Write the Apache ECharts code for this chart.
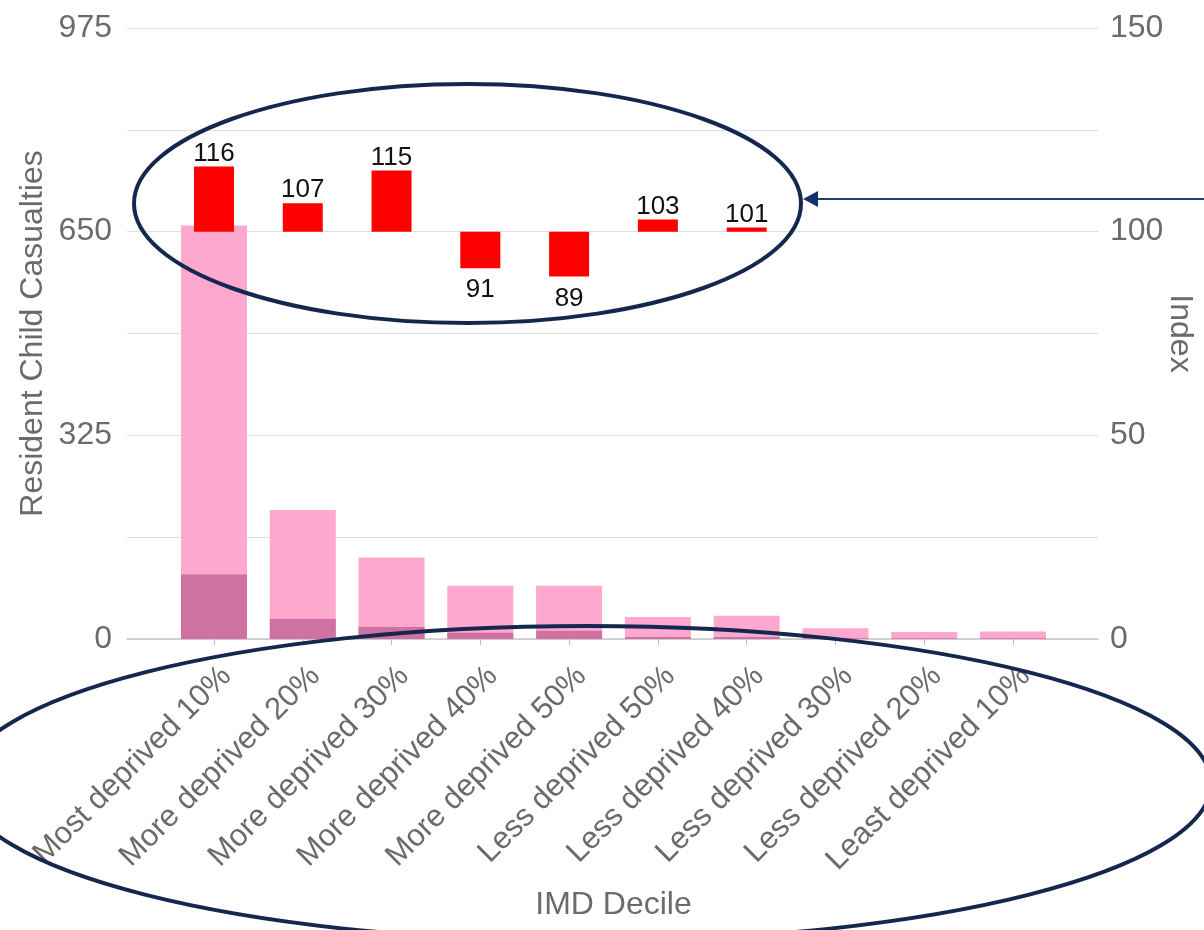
<!DOCTYPE html>
<html>
<head>
<meta charset="utf-8">
<script src="https://cdn.jsdelivr.net/npm/echarts@6/dist/echarts.min.js"></script>
<style>
html,body{margin:0;padding:0;background:#fff;}
#chart{width:1204px;height:930px;}
</style>
</head>
<body>
<div id="chart"></div>
<script>
const categories = ['Most deprived 10%','More deprived 20%','More deprived 30%','More deprived 40%','More deprived 50%','Less deprived 50%','Less deprived 40%','Less deprived 30%','Less deprived 20%','Least deprived 10%'];
const casualties = [660, 206, 130, 85, 85, 35, 37, 17, 11, 12];
const seriousCasualties = [103, 32, 19, 10, 13, 3, 3, 1, 1, 1];
const indexValues = [116, 107, 115, 91, 89, 103, 101, null, null, null];
const leftTicks = [0, 325, 650, 975];
const rightTicks = [0, 50, 100, 150];
const indexBaseline = 100;

const FONT = 'Liberation Sans, Arial, sans-serif';
const chart = echarts.init(document.getElementById('chart'), null, {renderer:'canvas'});

const baseData = indexValues.map(v => v == null ? '-' : Math.min(v, indexBaseline));
const deltaData = indexValues.map(v => v == null ? '-' : {
  value: Math.abs(v - indexBaseline),
  label: { position: v >= indexBaseline ? 'top' : 'bottom', distance: v >= indexBaseline ? 0 : 9 }
});

const gridTop = 28, gridBottom = 291;
const option = {
  animation: false,
  backgroundColor: '#fff',
  textStyle: { fontFamily: FONT },
  grid: [
    { left: 127, right: 106, top: gridTop, bottom: gridBottom, outerBoundsMode: 'none', containLabel: false },
    { left: 169.6, right: 146.6, top: gridTop, bottom: gridBottom, outerBoundsMode: 'none', containLabel: false },
    { left: 169.6, right: 146.6, top: gridTop, bottom: gridBottom, outerBoundsMode: 'none', containLabel: false }
  ],
  xAxis: [
    { gridIndex: 0, type: 'value', min: 0, max: 1,
      axisLine: { show: true, lineStyle: { color: '#c8c8c8', width: 1.5 } },
      axisTick: { show: false }, axisLabel: { show: false }, splitLine: { show: false } },
    { gridIndex: 1, type: 'category', data: categories,
      axisLine: { show: false },
      axisTick: { show: true, alignWithLabel: true, length: 6, lineStyle: { color: '#bdbdbd' } },
      axisLabel: { interval: 0, rotate: 45, fontSize: 31, color: '#6b6b6b', fontFamily: FONT,
        margin: 20, verticalAlign: 'top', lineHeight: 31, padding: [2, 0, 0, 0] },
      name: 'IMD Decile', nameLocation: 'middle', nameGap: 250, nameMoveOverlap: false,
      nameTextStyle: { fontSize: 32, color: '#6b6b6b', fontFamily: FONT } },
    { gridIndex: 2, type: 'category', data: categories, show: false }
  ],
  yAxis: [
    { gridIndex: 0, type: 'value', min: 0, max: 975, interval: 162.5, position: 'left',
      axisLine: { show: false }, axisTick: { show: false },
      splitLine: { show: true, lineStyle: { color: '#dedede', width: 1.2 } },
      axisLabel: { fontSize: 32, color: '#6b6b6b', margin: 15, fontFamily: FONT,
        formatter: v => leftTicks.includes(v) ? String(v) : '' },
      name: 'Resident Child Casualties', nameLocation: 'middle', nameGap: 78, nameRotate: 90,
      nameMoveOverlap: false,
      nameTextStyle: { fontSize: 32, color: '#6b6b6b', fontFamily: FONT } },
    { gridIndex: 0, type: 'value', min: 0, max: 150, interval: 25, position: 'right',
      axisLine: { show: false }, axisTick: { show: false }, splitLine: { show: false },
      axisLabel: { fontSize: 32, color: '#6b6b6b', margin: 12, fontFamily: FONT,
        formatter: v => rightTicks.includes(v) ? String(v) : '' },
      name: 'Index', nameLocation: 'middle', nameGap: 66, nameRotate: -90, nameMoveOverlap: false,
      nameTextStyle: { fontSize: 32, color: '#6b6b6b', fontFamily: FONT } },
    { gridIndex: 1, type: 'value', min: 0, max: 975, show: false, splitLine: { show: false } },
    { gridIndex: 2, type: 'value', min: 0, max: 150, show: false, splitLine: { show: false } }
  ],
  series: [
    { name: 'All casualties', type: 'bar', xAxisIndex: 1, yAxisIndex: 2, data: casualties,
      barWidth: 66, barGap: '-100%', itemStyle: { color: '#fea8cf' } },
    { name: 'KSI', type: 'bar', xAxisIndex: 1, yAxisIndex: 2, data: seriousCasualties,
      barWidth: 66, barGap: '-100%', itemStyle: { color: '#cf72a3' } },
    { name: 'base', type: 'bar', xAxisIndex: 2, yAxisIndex: 3, stack: 'idx', data: baseData,
      barWidth: 40, itemStyle: { color: 'rgba(0,0,0,0)' }, silent: true },
    { name: 'Index', type: 'bar', xAxisIndex: 2, yAxisIndex: 3, stack: 'idx', data: deltaData,
      barWidth: 40, itemStyle: { color: '#ff0000' },
      label: { show: true, fontSize: 26, color: '#111', fontFamily: FONT,
        formatter: p => String(indexValues[p.dataIndex]) } }
  ],
  graphic: [
    { type: 'ellipse', z: 100, shape: { cx: 467.5, cy: 203.5, rx: 333.5, ry: 119.5 },
      style: { fill: 'none', stroke: '#14284f', lineWidth: 4 } },
    { type: 'ellipse', z: 100, shape: { cx: 587, cy: 783.5, rx: 624, ry: 157.5 },
      style: { fill: 'none', stroke: '#14284f', lineWidth: 4 } },
    { type: 'line', z: 100, shape: { x1: 815, y1: 199, x2: 1204, y2: 199 },
      style: { stroke: '#1f3c78', lineWidth: 2 } },
    { type: 'polygon', z: 100, shape: { points: [[803, 199], [818, 191], [818, 207]] },
      style: { fill: '#14306b' } }
  ]
};
chart.setOption(option);
</script>
</body>
</html>
